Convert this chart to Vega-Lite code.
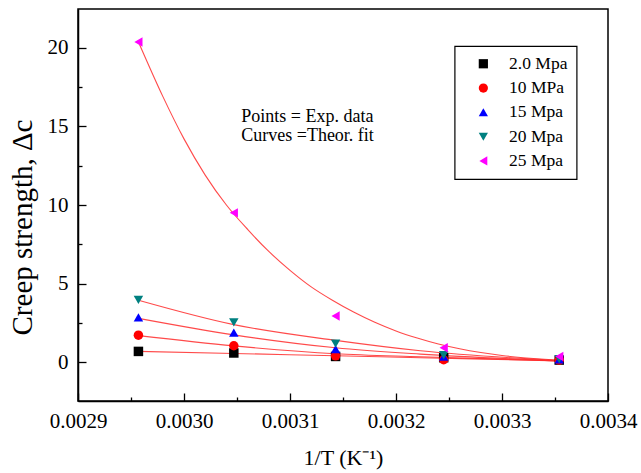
{
  "$schema": "https://vega.github.io/schema/vega-lite/v6.json",
  "width": 530,
  "height": 392,
  "autosize": {"type": "none"},
  "padding": {"left": 78, "top": 9, "right": 33, "bottom": 72},
  "background": "white",
  "config": {
    "view": {"stroke": "black", "strokeWidth": 1.5},
    "font": "Liberation Serif",
    "axis": {
      "domainColor": "black", "domainWidth": 1.5,
      "tickColor": "black", "tickWidth": 1.3,
      "labelFont": "Liberation Serif", "labelFontSize": 21, "labelColor": "black",
      "titleFont": "Liberation Serif", "titleFontSize": 22, "titleFontWeight": "normal", "titleColor": "black",
      "grid": false, "labelFlush": false, "labelOverlap": false
    },
    "legend": {
      "strokeColor": "black", "strokeWidth": 1.2, "padding": 9, "fillColor": "white",
      "labelFont": "Liberation Serif", "labelFontSize": 17.5, "labelColor": "black",
      "symbolSize": 85, "rowPadding": 5.3, "labelOffset": 17, "symbolOffset": 11
    }
  },
  "datasets": {
    "points": [
      {"series": "2.0 Mpa", "x": 0.002957, "y": 0.70},
      {"series": "2.0 Mpa", "x": 0.003047, "y": 0.60},
      {"series": "2.0 Mpa", "x": 0.003143, "y": 0.38},
      {"series": "2.0 Mpa", "x": 0.003245, "y": 0.30},
      {"series": "2.0 Mpa", "x": 0.003354, "y": 0.15},
      {"series": "10 MPa", "x": 0.002957, "y": 1.73},
      {"series": "10 MPa", "x": 0.003047, "y": 1.06},
      {"series": "10 MPa", "x": 0.003143, "y": 0.42},
      {"series": "10 MPa", "x": 0.003245, "y": 0.17},
      {"series": "10 MPa", "x": 0.003354, "y": 0.15},
      {"series": "15 Mpa", "x": 0.002957, "y": 2.86},
      {"series": "15 Mpa", "x": 0.003047, "y": 1.90},
      {"series": "15 Mpa", "x": 0.003143, "y": 0.84},
      {"series": "15 Mpa", "x": 0.003245, "y": 0.36},
      {"series": "15 Mpa", "x": 0.003354, "y": 0.20},
      {"series": "20 Mpa", "x": 0.002957, "y": 3.98},
      {"series": "20 Mpa", "x": 0.003047, "y": 2.54},
      {"series": "20 Mpa", "x": 0.003143, "y": 1.20},
      {"series": "20 Mpa", "x": 0.003245, "y": 0.46},
      {"series": "20 Mpa", "x": 0.003354, "y": 0.21},
      {"series": "25 Mpa", "x": 0.002957, "y": 20.36},
      {"series": "25 Mpa", "x": 0.003047, "y": 9.5},
      {"series": "25 Mpa", "x": 0.003143, "y": 2.95},
      {"series": "25 Mpa", "x": 0.003245, "y": 0.93},
      {"series": "25 Mpa", "x": 0.003354, "y": 0.38}
    ],
    "curves": [
      {"series": "25 Mpa", "x": 0.002957, "y": 20.36},
      {"series": "25 Mpa", "x": 0.00298, "y": 16.9},
      {"series": "25 Mpa", "x": 0.003, "y": 14.2},
      {"series": "25 Mpa", "x": 0.00302, "y": 11.9},
      {"series": "25 Mpa", "x": 0.00304, "y": 10.0},
      {"series": "25 Mpa", "x": 0.00306, "y": 8.45},
      {"series": "25 Mpa", "x": 0.00308, "y": 7.05},
      {"series": "25 Mpa", "x": 0.0031, "y": 5.85},
      {"series": "25 Mpa", "x": 0.00312, "y": 4.8},
      {"series": "25 Mpa", "x": 0.00314, "y": 3.95},
      {"series": "25 Mpa", "x": 0.00316, "y": 3.2},
      {"series": "25 Mpa", "x": 0.00318, "y": 2.55},
      {"series": "25 Mpa", "x": 0.0032, "y": 2.0},
      {"series": "25 Mpa", "x": 0.00322, "y": 1.55},
      {"series": "25 Mpa", "x": 0.00324, "y": 1.17},
      {"series": "25 Mpa", "x": 0.00326, "y": 0.87},
      {"series": "25 Mpa", "x": 0.00328, "y": 0.63},
      {"series": "25 Mpa", "x": 0.0033, "y": 0.44},
      {"series": "25 Mpa", "x": 0.00332, "y": 0.3},
      {"series": "25 Mpa", "x": 0.00334, "y": 0.2},
      {"series": "25 Mpa", "x": 0.003354, "y": 0.15},
      {"series": "20 Mpa", "x": 0.002957, "y": 3.95},
      {"series": "20 Mpa", "x": 0.003047, "y": 2.4},
      {"series": "20 Mpa", "x": 0.003143, "y": 1.4},
      {"series": "20 Mpa", "x": 0.003223, "y": 0.74},
      {"series": "20 Mpa", "x": 0.003354, "y": 0.12},
      {"series": "15 Mpa", "x": 0.002957, "y": 2.8},
      {"series": "15 Mpa", "x": 0.003047, "y": 1.75},
      {"series": "15 Mpa", "x": 0.003143, "y": 0.93},
      {"series": "15 Mpa", "x": 0.003223, "y": 0.53},
      {"series": "15 Mpa", "x": 0.003354, "y": 0.1},
      {"series": "10 MPa", "x": 0.002957, "y": 1.7},
      {"series": "10 MPa", "x": 0.003047, "y": 1.05},
      {"series": "10 MPa", "x": 0.003143, "y": 0.55},
      {"series": "10 MPa", "x": 0.003223, "y": 0.36},
      {"series": "10 MPa", "x": 0.003354, "y": 0.1},
      {"series": "2.0 Mpa", "x": 0.002957, "y": 0.7},
      {"series": "2.0 Mpa", "x": 0.003047, "y": 0.57},
      {"series": "2.0 Mpa", "x": 0.003143, "y": 0.42},
      {"series": "2.0 Mpa", "x": 0.003223, "y": 0.3},
      {"series": "2.0 Mpa", "x": 0.003354, "y": 0.1}
    ],
    "note": [
      {"x": 0.003054, "y": 15.3, "label": "Points = Exp. data\nCurves =Theor. fit"}
    ]
  },
  "resolve": {"axis": {"x": "independent", "y": "independent"}},
  "layer": [
    {
      "data": {"name": "curves"},
      "mark": {"type": "line", "color": "#ff2a2a", "strokeWidth": 1.1, "opacity": 0.85, "interpolate": "monotone"},
      "encoding": {
        "x": {
          "field": "x", "type": "quantitative",
          "scale": {"domain": [0.0029, 0.0034], "nice": false, "zero": false},
          "axis": {
            "orient": "bottom",
            "values": [0.0029, 0.003, 0.0031, 0.0032, 0.0033, 0.0034],
            "format": ".4f",
            "tickSize": -8,
            "labelPadding": 17,
            "title": "1/T (K⁻¹)",
            "titlePadding": 16
          }
        },
        "y": {
          "field": "y", "type": "quantitative",
          "scale": {"domain": [-2.45, 22.45], "nice": false, "zero": false},
          "axis": {
            "orient": "left",
            "values": [0, 5, 10, 15, 20],
            "format": "d",
            "tickSize": -8,
            "labelPadding": 18,
            "title": "Creep strength, Δc",
            "titleFontSize": 29,
            "titleX": -41,
            "titleY": 218
          }
        },
        "detail": {"field": "series"}
      }
    },
    {
      "data": {"name": "points"},
      "mark": {"type": "point", "filled": true, "size": 90, "opacity": 1},
      "encoding": {
        "x": {
          "field": "x", "type": "quantitative",
          "axis": {
            "orient": "bottom",
            "values": [0.00295, 0.00305, 0.00315, 0.00325, 0.00335],
            "tickSize": -4, "labels": false, "domain": false, "title": null
          }
        },
        "y": {
          "field": "y", "type": "quantitative",
          "axis": {
            "orient": "left",
            "values": [2.5, 7.5, 12.5, 17.5],
            "tickSize": -4, "labels": false, "domain": false, "title": null
          }
        },
        "color": {
          "field": "series", "type": "nominal",
          "scale": {"domain": ["2.0 Mpa", "10 MPa", "15 Mpa", "20 Mpa", "25 Mpa"], "range": ["#000000", "#ff0000", "#0000ff", "#008080", "#ff00ff"]},
          "legend": {"title": null, "orient": "none", "legendX": 376.6, "legendY": 37}
        },
        "shape": {
          "field": "series", "type": "nominal",
          "scale": {"domain": ["2.0 Mpa", "10 MPa", "15 Mpa", "20 Mpa", "25 Mpa"], "range": ["square", "circle", "triangle-up", "triangle-down", "triangle-left"]},
          "legend": {"title": null, "orient": "none", "legendX": 376.6, "legendY": 37}
        }
      }
    },
    {
      "data": {"name": "note"},
      "mark": {"type": "text", "align": "left", "baseline": "alphabetic", "fontSize": 18, "font": "Liberation Serif", "color": "black", "lineBreak": "\n", "lineHeight": 19.4},
      "encoding": {
        "x": {"field": "x", "type": "quantitative", "axis": null},
        "y": {"field": "y", "type": "quantitative", "axis": null},
        "text": {"field": "label"}
      }
    }
  ]
}
